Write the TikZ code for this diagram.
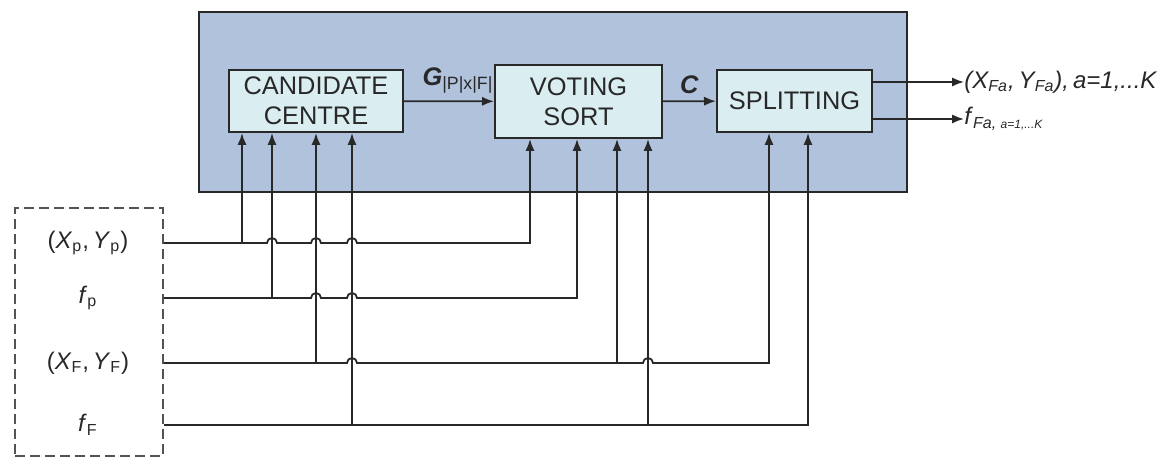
\documentclass[tikz,border=0pt]{standalone}
\usepackage{fontspec}
\setmainfont{Liberation Sans}
\usepackage{xcolor}
\usetikzlibrary{calc,arrows.meta}

\definecolor{panelfill}{RGB}{176,194,220}
\definecolor{stagefill}{RGB}{218,238,242}
\definecolor{ink}{RGB}{40,40,40}

\begin{document}
\begin{tikzpicture}[x=0.5pt,y=0.5pt,
    font=\fontsize{12.7}{15}\selectfont,
    stage/.style={draw=ink,line width=1pt,fill=stagefill,align=center,inner sep=0pt,text=ink},
    label/.style={text=ink,font=\fontsize{12}{14}\selectfont},
    wire/.style={draw=ink,line width=0.9pt},
    feed/.style={wire,-{Latex[length=6pt,width=4.6pt]}},
    hop/.style={insert path={-- ($(#1)+(-5,0)$) arc[start angle=180,end angle=0,radius=2.5pt]}}]
    \useasboundingbox (0,0) rectangle (1175,458);

    % processing panel and its three stages
    \draw[ink,line width=1pt,fill=panelfill] (199,266) rectangle (907,446);
    \node[stage,minimum width=87pt,minimum height=31pt] (cand) at (316,357) {CANDIDATE\\CENTRE};
    \node[stage,minimum width=83.5pt,minimum height=36.5pt] (vote) at (578.5,356.5) {VOTING\\SORT};
    \node[stage,minimum width=77.5pt,minimum height=31pt] (split) at (794.5,357) {SPLITTING};

    % input data
    \node[draw=ink!80,line width=0.9pt,dash pattern=on 5pt off 2.5pt,minimum width=74pt,minimum height=124pt] (src) at (89,126) {};
    \node[label] (xp) at (88,215) {(\textit{X}\textsubscript{p},\,\textit{Y}\textsubscript{p})};
    \node[label] (fp) at (88,160) {\textit{f}\textsubscript{p}};
    \node[label] (xf) at (88,95) {(\textit{X}\textsubscript{F},\,\textit{Y}\textsubscript{F})};
    \node[label] (ff) at (88,33) {\textit{f}\textsubscript{F}};

    % entry points under the stages
    \coordinate (c1) at ($(cand.south west)+(14,0)$);
    \coordinate (c2) at ($(cand.south west)+(44,0)$);
    \coordinate (c3) at ($(cand.south west)+(88,0)$);
    \coordinate (c4) at ($(cand.south west)+(124,0)$);
    \coordinate (v1) at ($(vote.south west)+(36,0)$);
    \coordinate (v2) at ($(vote.south west)+(83,0)$);
    \coordinate (v3) at ($(vote.south west)+(123,0)$);
    \coordinate (v4) at ($(vote.south west)+(154,0)$);
    \coordinate (s1) at ($(split.south west)+(53,0)$);
    \coordinate (s2) at ($(split.south west)+(92,0)$);

    % (Xp,Yp)
    \draw[feed] (src.east |- xp) [hop={c2 |- xp}] [hop={c3 |- xp}] [hop={c4 |- xp}] -- (v1 |- xp) -- (v1);
    \draw[feed] (c1 |- xp) -- (c1);
    % fp
    \draw[feed] (src.east |- fp) [hop={c3 |- fp}] [hop={c4 |- fp}] -- (v2 |- fp) -- (v2);
    \draw[feed] (c2 |- fp) -- (c2);
    % (XF,YF)
    \draw[feed] (src.east |- xf) [hop={c4 |- xf}] [hop={v4 |- xf}] -- (s1 |- xf) -- (s1);
    \draw[feed] (c3 |- xf) -- (c3);
    \draw[feed] (v3 |- xf) -- (v3);
    % fF
    \draw[feed] (src.east |- ff) -- (s2 |- ff) -- (s2);
    \draw[feed] (c4 |- ff) -- (c4);
    \draw[feed] (v4 |- ff) -- (v4);

    % between the stages
    \draw[feed] (cand) -- node[pos=0.6,above,text=ink] {\textbf{\textit{G}}\textsubscript{|P|x|F|}} (vote);
    \draw[feed] (vote) -- node[above,text=ink] {\textbf{\textit{C}}} (split);

    % outputs
    \node[label,anchor=west,inner sep=0pt] (outxy) at (964,376) {\textit{(X\textsubscript{Fa},\,Y\textsubscript{Fa}),\,a=1,...K}};
    \node[label,anchor=west,inner sep=0pt] (outf) at (964,339) {\textit{f}\textsubscript{\textit{Fa,} {\fontsize{6}{7}\selectfont\textit{a=1,...K}}}};
    \draw[feed] (split.east |- outxy) -- (outxy.west);
    \draw[feed] (split.east |- outf) -- (outf.west);
\end{tikzpicture}
\end{document}
